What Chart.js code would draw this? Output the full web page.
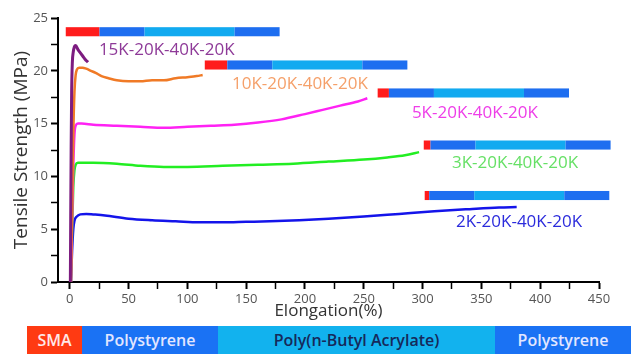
<!DOCTYPE html>
<html>
<head>
<meta charset="utf-8">
<script src="https://cdn.jsdelivr.net/npm/chart.js@4"></script>
<style>
  body { margin: 0; background: #fff; font-family: 'Open Sans', sans-serif; }
  #wrap { position: relative; width: 631px; height: 354px; overflow: hidden; }
  #box { position: absolute; left: 0; top: 0; width: 631px; height: 326px; }
  #legendBar { position: absolute; top: 326px; height: 28px; left: 0; width: 631px; }
  .seg { position: absolute; top: 0; height: 28px; line-height: 28px; text-align: center;
         font-size: 16px; font-weight: 600; white-space: nowrap; }
</style>
</head>
<body>
<div id="wrap">
  <div id="box"><canvas id="chart"></canvas></div>
  <div id="legendBar">
    <div class="seg" style="left:27px;width:55px;background:#ff3a12;color:#ffe8e8">SMA</div>
    <div class="seg" style="left:82px;width:136px;background:#1a72f4;color:#e2e6ff">Polystyrene</div>
    <div class="seg" style="left:218px;width:277px;background:#12b2ee;color:#16295a">Poly(n-Butyl Acrylate)</div>
    <div class="seg" style="left:495px;width:136px;background:#1a72f4;color:#e2e6ff">Polystyrene</div>
  </div>
</div>
<script>
const ctx = document.getElementById('chart').getContext('2d');

// series names (block lengths in kg/mol)
const names = ['15K-20K-40K-20K', '10K-20K-40K-20K', '5K-20K-40K-20K', '3K-20K-40K-20K', '2K-20K-40K-20K'];
const blockSizes = [[15, 20, 40, 20], [10, 20, 40, 20], [5, 20, 40, 20], [3, 20, 40, 20], [2, 20, 40, 20]];

// stress-strain curves, elongation (%) and tensile strength (MPa)
const x15 = [0.5, 0.8, 1.2, 1.6, 2.2, 3, 4, 5, 7, 9, 11, 13, 15.5];
const y15 = [0, 6, 13, 18, 20.8, 21.8, 22.3, 22.4, 22.0, 21.7, 21.4, 21.1, 20.8];
const x10 = [1, 2, 3, 4, 5, 6, 8, 11, 14, 18, 22, 27, 33, 40, 50, 60, 70, 80, 90, 100, 108, 113];
const y10 = [0, 7, 14, 18, 19.6, 20.1, 20.3, 20.3, 20.2, 20.0, 19.8, 19.5, 19.3, 19.1, 19.0, 19.0, 19.1, 19.1, 19.3, 19.4, 19.5, 19.6];
const x5 = [1, 2, 3, 4, 5, 7, 10, 20, 40, 60, 80, 100, 120, 140, 160, 180, 200, 215, 230, 245, 253];
const y5 = [0, 6, 11, 14, 14.8, 15.0, 15.0, 14.9, 14.8, 14.7, 14.6, 14.7, 14.8, 14.9, 15.1, 15.4, 15.9, 16.3, 16.7, 17.1, 17.4];
const x3 = [1, 2, 3, 4, 5, 7, 10, 20, 40, 60, 80, 100, 130, 160, 190, 220, 250, 270, 285, 297];
const y3 = [0, 5, 9, 10.6, 11.1, 11.3, 11.3, 11.3, 11.2, 11.0, 10.9, 10.9, 11.0, 11.1, 11.2, 11.4, 11.6, 11.8, 12.0, 12.3];
const x2 = [1, 2, 3, 4, 6, 9, 14, 20, 30, 50, 70, 90, 110, 130, 150, 170, 195, 220, 250, 280, 310, 340, 365, 380];
const y2 = [0, 3, 5, 5.8, 6.2, 6.4, 6.45, 6.4, 6.3, 6.0, 5.85, 5.75, 5.65, 5.65, 5.7, 5.75, 5.85, 6.0, 6.2, 6.45, 6.7, 6.9, 7.05, 7.1];

const lineColors = ['#7d1c80', '#f07a26', '#ff22f4', '#22ee22', '#1414ea'];
const labelColors = ['#8e3a98', '#f5a06a', '#ee3ee8', '#66e066', '#2b2bdc'];
const segColors = ['#ff1c1c', '#1e6ef0', '#12aaf0', '#1e6ef0'];

// where each block diagram and label sits, in axis units
const blockX = [-3.4, 114.8, 261.8, 301, 301.8];
const blockY = [23.7, 20.55, 17.9, 12.97, 8.19];
const labelX = [82.5, 195.7, 344.5, 378.6, 382];
const labelY = [21.97, 18.75, 16.0, 11.27, 5.68];
const kUnit = 1.914; // elongation units per kg/mol of block

const xs = [x15, x10, x5, x3, x2];
const ys = [y15, y10, y5, y3, y2];

const datasets = names.map((n, i) => ({
  label: n,
  data: xs[i].map((v, j) => ({ x: v, y: ys[i][j] })),
  borderColor: lineColors[i],
  borderWidth: i === 0 ? 3 : 2.5,
  pointRadius: 0,
  cubicInterpolationMode: 'monotone',
  fill: false
}));

const blocksPlugin = {
  id: 'blocks',
  afterDatasetsDraw(chart) {
    const c = chart.ctx;
    const sx = chart.scales.x, sy = chart.scales.y;
    c.save();
    names.forEach((n, i) => {
      let start = blockX[i];
      const top = sy.getPixelForValue(blockY[i] + 0.43);
      const bot = sy.getPixelForValue(blockY[i] - 0.43);
      blockSizes[i].forEach((k, j) => {
        const end = start + k * kUnit;
        const p0 = sx.getPixelForValue(start), p1 = sx.getPixelForValue(end);
        c.fillStyle = segColors[j];
        c.fillRect(p0, top, p1 - p0, bot - top);
        start = end;
      });
      c.font = '17px "Open Sans"';
      c.fillStyle = labelColors[i];
      c.textAlign = 'center';
      c.textBaseline = 'middle';
      c.fillText(n, sx.getPixelForValue(labelX[i]), sy.getPixelForValue(labelY[i]));
    });
    c.restore();
  }
};

new Chart(ctx, {
  type: 'line',
  data: { datasets },
  options: {
    responsive: true,
    maintainAspectRatio: false,
    animation: false,
    layout: { padding: { left: 0, right: 32, top: 18, bottom: 0 } },
    plugins: { legend: { display: false }, tooltip: { enabled: false } },
    scales: {
      x: {
        type: 'linear',
        min: -10,
        max: 450,
        afterFit: s => { s.height = 44; },
        border: { display: true, color: '#000', width: 2 },
        grid: {
          drawOnChartArea: false, drawTicks: true, tickLength: 7, color: '#000',
          tickColor: '#000',
          tickWidth: c => (c.tick && c.tick.value % 50 === 0 ? 2 : 1.5)
        },
        ticks: {
          stepSize: 25,
          includeBounds: false,
          padding: 2,
          color: '#555',
          font: { family: 'Open Sans', size: 13 },
          maxRotation: 0,
          autoSkip: false,
          callback: v => (v % 50 === 0 ? v : '')
        },
        title: {
          display: true,
          text: 'Elongation(%)',
          color: '#333',
          font: { family: 'Open Sans', size: 17 },
          padding: { top: 0, bottom: 5 }
        }
      },
      y: {
        min: 0,
        max: 25,
        afterFit: s => { s.width = 58; },
        border: { display: true, color: '#000', width: 2 },
        grid: {
          drawOnChartArea: false, drawTicks: true, tickLength: 7, color: '#000',
          tickColor: '#000',
          tickWidth: c => (c.tick && c.tick.value % 5 === 0 ? 2 : 1.5)
        },
        ticks: {
          stepSize: 2.5,
          padding: 3,
          color: '#555',
          font: { family: 'Open Sans', size: 13 },
          autoSkip: false,
          callback: v => (v % 5 === 0 ? v : '')
        },
        title: {
          display: true,
          text: 'Tensile Strength (MPa)',
          color: '#333',
          font: { family: 'Open Sans', size: 19 },
          padding: { top: 10, bottom: 0 }
        }
      }
    }
  },
  plugins: [blocksPlugin]
});
</script>
</body>
</html>
